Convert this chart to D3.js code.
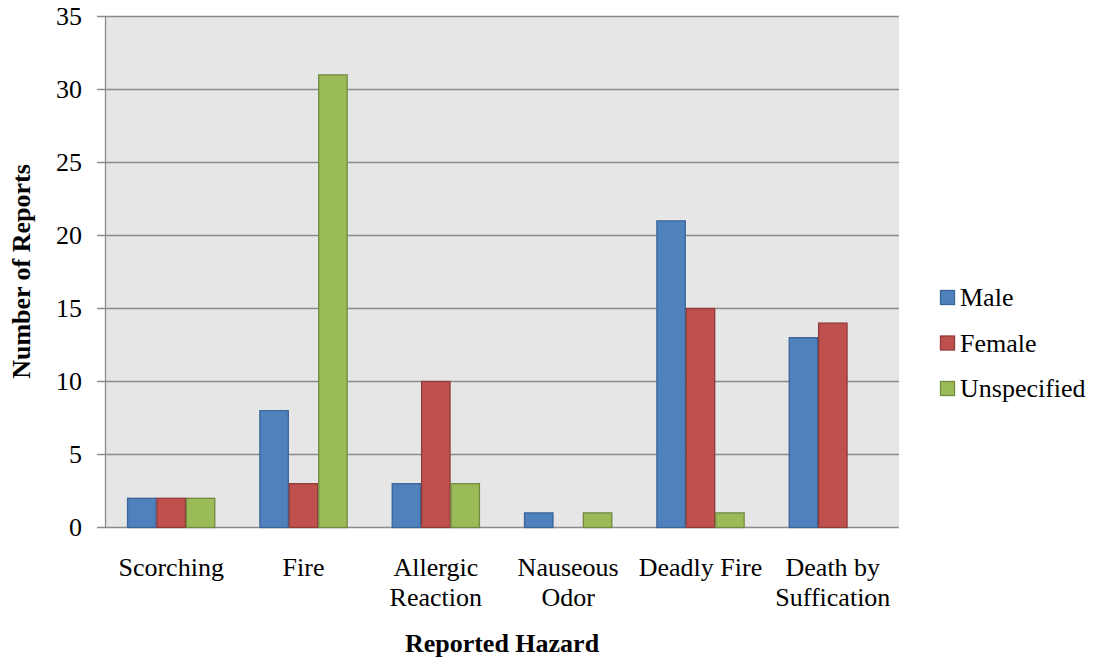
<!DOCTYPE html>
<html><head><meta charset="utf-8">
<script src="https://cdn.jsdelivr.net/npm/d3@7"></script>
<style>body{margin:0;background:#fff;} svg{display:block;}</style>
</head><body>
<svg id="chart" width="1094" height="666"></svg>
<script>
const categories = [["Scorching"], ["Fire"], ["Allergic", "Reaction"], ["Nauseous", "Odor"], ["Deadly Fire"], ["Death by", "Suffication"]];
const seriesNames = ["Male", "Female", "Unspecified"];
const male = [2, 8, 3, 1, 21, 13];
const female = [2, 3, 10, 0, 15, 14];
const unspecified = [2, 31, 3, 1, 1, 0];
const yTicks = [0, 5, 10, 15, 20, 25, 30, 35];
const fills = ["#4F81BD", "#C0504D", "#9BBB59"];
const strokes = ["#3A6496", "#8E3B39", "#72893F"];

const series = [male, female, unspecified];
const svg = d3.select("#chart");
const font = "'Liberation Serif','Times New Roman',serif";
const L = 105, R = 899, T = 16, B = 527;
const FS = 26;

const x = d3.scaleBand().domain(d3.range(categories.length)).range([L, R]).paddingInner(0).paddingOuter(0);
const bw = x.bandwidth() / 4.5;
const y = d3.scaleLinear().domain([0, 35]).range([B, T]);

svg.append("rect").attr("x", L).attr("y", T).attr("width", R - L).attr("height", B - T).attr("fill", "#E6E6E6");

// gridlines
svg.append("g").selectAll("line").data(yTicks).join("line")
  .attr("x1", L - 8).attr("x2", R)
  .attr("y1", d => y(d) + 0.5).attr("y2", d => y(d) + 0.5)
  .attr("stroke", "#8C8C8C").attr("stroke-width", 1.3);

svg.append("line").attr("x1", L + 0.5).attr("x2", L + 0.5).attr("y1", T).attr("y2", B)
  .attr("stroke", "#8C8C8C").attr("stroke-width", 1.3);

// y labels
svg.append("g").selectAll("text").data(yTicks).join("text")
  .attr("x", 82).attr("y", d => y(d) + 9)
  .attr("text-anchor", "end").attr("font-family", font).attr("font-size", FS)
  .text(d => d);

// bars
series.forEach((vals, si) => {
  svg.append("g").selectAll("rect").data(vals).join("rect")
    .attr("x", (d, i) => x(i) + x.bandwidth() / 2 - 1.5 * bw + si * bw + 0.5)
    .attr("y", d => y(d) + 0.5)
    .attr("width", bw - 1)
    .attr("height", d => Math.max(0, y(0) - y(d)))
    .attr("fill", fills[si]).attr("stroke", d => d > 0 ? strokes[si] : "none").attr("stroke-width", 1.3);
});

// x labels
const xl = svg.append("g").selectAll("text").data(categories).join("text")
  .attr("x", (d, i) => x(i) + x.bandwidth() / 2)
  .attr("y", 576)
  .attr("text-anchor", "middle").attr("font-family", font).attr("font-size", FS);
xl.each(function(d, i) {
  const t = d3.select(this);
  d.forEach((line, li) => {
    t.append("tspan").attr("x", x(i) + x.bandwidth() / 2).attr("dy", li === 0 ? 0 : 30).text(line);
  });
});

// axis titles
svg.append("text").attr("x", (L + R) / 2).attr("y", 652).attr("text-anchor", "middle")
  .attr("font-family", font).attr("font-size", FS).attr("font-weight", "bold").text("Reported Hazard");
svg.append("text").attr("transform", `translate(30,${(T + B) / 2}) rotate(-90)`).attr("text-anchor", "middle")
  .attr("font-family", font).attr("font-size", FS).attr("font-weight", "bold").text("Number of Reports");

// legend
const lg = svg.append("g").selectAll("g").data(seriesNames).join("g")
  .attr("transform", (d, i) => `translate(940,${297 + i * 45.5})`);
lg.append("rect").attr("x", 0.5).attr("y", -6.5).attr("width", 14).attr("height", 14)
  .attr("fill", (d, i) => fills[i]).attr("stroke", (d, i) => strokes[i]).attr("stroke-width", 1.3);
lg.append("text").attr("x", 20).attr("y", 9).attr("font-family", font).attr("font-size", FS).text(d => d);
</script>
</body></html>
